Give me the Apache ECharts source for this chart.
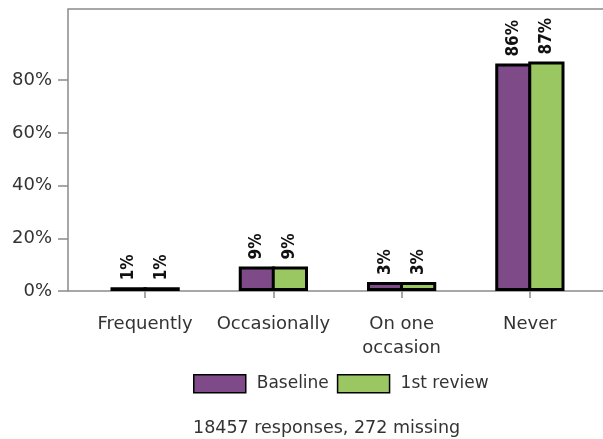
<!DOCTYPE html>
<html>
<head>
<meta charset="utf-8">
<script src="https://cdn.jsdelivr.net/npm/echarts@6/dist/echarts.min.js"></script>
<style>
html,body{margin:0;padding:0;background:#fff;}
#chart{width:603px;height:439px;}
</style>
</head>
<body>
<div id="chart"></div>
<script>
// data (bar heights, labels show rounded %)
var categories = ['Frequently', 'Occasionally', 'On one\noccasion', 'Never'];
var seriesNames = ['Baseline', '1st review'];
var baseline = [1.4, 9.3, 3.4, 86.3];
var firstReview = [1.4, 9.3, 3.4, 87.1];
var yTicks = [0, 20, 40, 60, 80];
var colors = ['#7e4b88', '#9bc762'];

var chart = echarts.init(document.getElementById('chart'));

var labelStyle = {
    show: true,
    position: 'top',
    rotate: 90,
    align: 'left',
    verticalAlign: 'middle',
    distance: 7,
    formatter: function (p) { return Math.round(p.value) + '%'; },
    color: '#111',
    fontWeight: 'bold',
    fontSize: 17,
    fontFamily: '"DejaVu Sans Condensed", "DejaVu Sans"'
};

function makeSeries(name, data, color) {
    return {
        name: name,
        type: 'bar',
        data: data,
        barGap: '-9%',
        barCategoryGap: '46%',
        itemStyle: {color: color, borderColor: '#000', borderWidth: 3},
        label: labelStyle,
        animation: false
    };
}

var option = {
    color: colors,
    textStyle: {fontFamily: 'DejaVu Sans'},
    grid: {left: 81, right: 9, top: 9, bottom: 148},
    graphic: [{
        type: 'rect',
        silent: true,
        shape: {x: 68, y: 9, width: 600, height: 282},
        style: {fill: null, stroke: '#8a8a8a', lineWidth: 1.5},
        z: 0
    }],
    legend: {
        data: seriesNames,
        top: 369,
        left: 188,
        itemWidth: 52,
        itemHeight: 18,
        itemGap: 8,
        icon: 'rect',
        itemStyle: {borderColor: '#000', borderWidth: 1.5},
        textStyle: {fontSize: 17, color: '#333', padding: [0, 0, 0, 6], fontFamily: 'DejaVu Sans'}
    },
    title: {
        text: '18457 responses, 272 missing',
        left: 188,
        top: 414,
        textStyle: {fontSize: 17.5, fontWeight: 'normal', color: '#333', fontFamily: 'DejaVu Sans'}
    },
    xAxis: {
        type: 'category',
        data: categories,
        axisLine: {show: false},
        axisTick: {show: true, alignWithLabel: true, length: 7, lineStyle: {color: '#8a8a8a', width: 1.5}},
        axisLabel: {interval: 0, fontSize: 18, color: '#333', margin: 21, lineHeight: 24, fontFamily: 'DejaVu Sans'}
    },
    yAxis: {
        type: 'value',
        min: 0,
        max: 107,
        offset: 13,
        axisLine: {show: false},
        splitLine: {show: false},
        axisTick: {show: true, length: 10, customValues: yTicks, lineStyle: {color: '#8a8a8a', width: 1.5}},
        axisLabel: {
            customValues: yTicks,
            formatter: '{value}%',
            fontSize: 18,
            color: '#333',
            margin: 16,
            fontFamily: 'DejaVu Sans'
        }
    },
    series: [
        makeSeries(seriesNames[0], baseline, colors[0]),
        makeSeries(seriesNames[1], firstReview, colors[1])
    ]
};

chart.setOption(option);
window.onresize = chart.resize;
</script>
</body>
</html>
